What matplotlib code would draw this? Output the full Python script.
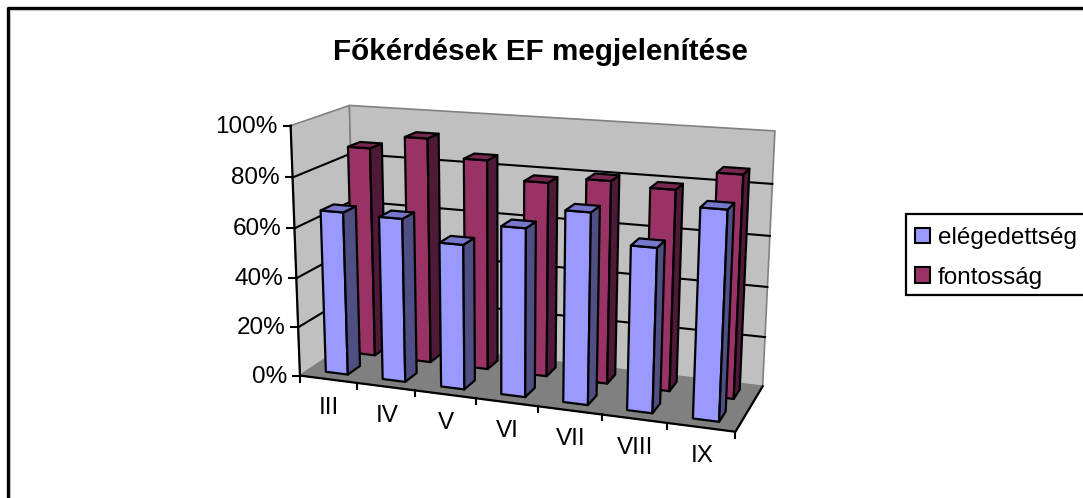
import numpy as np
import matplotlib
matplotlib.use("Agg")
import matplotlib.pyplot as plt
from matplotlib.patches import Patch, Polygon, Rectangle

title = "Főkérdések EF megjelenítése"
categories = ["III", "IV", "V", "VI", "VII", "VIII", "IX"]
elegedettseg = [0.66, 0.655, 0.575, 0.66, 0.74, 0.63, 0.79]
fontossag = [0.865, 0.92, 0.85, 0.78, 0.805, 0.79, 0.865]
y_ticks = [0, 0.2, 0.4, 0.6, 0.8, 1.0]
y_labels = ["0%", "20%", "40%", "60%", "80%", "100%"]

plt.rcParams["font.family"] = ["Liberation Sans", "DejaVu Sans"]
W, H = 1083, 498


# fit the camera of the 3d box: (u,v,z) in 0..1 -> pixel
def fit_camera(world, pix):
    rows = []
    for (u, v, z), (x, y) in zip(world, pix):
        rows.append([u, v, z, 1, 0, 0, 0, 0, -x*u, -x*v, -x*z, -x])
        rows.append([0, 0, 0, 0, u, v, z, 1, -y*u, -y*v, -y*z, -y])
    _, _, vt = np.linalg.svd(np.array(rows, dtype=float))
    return vt[-1].reshape(3, 4)


box_world = [(0, 0, 0), (0, 0, 1), (0, 1, 1), (0, 1, 0), (1, 0, 0), (1, 1, 0), (1, 1, 1)]
box_pix = [(300, 376), (291, 125), (349, 106), (355.7, 338), (735, 432), (763, 386), (775, 131)]
CAM = fit_camera(box_world, box_pix)


def proj(u, v, z):
    p = CAM @ np.array([u, v, z, 1.0])
    return p[0]/p[2], p[1]/p[2]


def face(ax, pts, color, edge="black", lw=1.6, z=1):
    ax.add_patch(Polygon([proj(*p) for p in pts], closed=True, facecolor=color,
                         edgecolor=edge, linewidth=lw, joinstyle="round", zorder=z))


def bar(ax, u0, u1, v0, v1, val, colors, z):
    face(ax, [(u0, v0, 0), (u1, v0, 0), (u1, v0, val), (u0, v0, val)], colors[0], z=z)
    face(ax, [(u1, v0, 0), (u1, v1, 0), (u1, v1, val), (u1, v0, val)], colors[1], z=z)
    face(ax, [(u0, v0, val), (u1, v0, val), (u1, v1, val), (u0, v1, val)], colors[2], z=z)


fig = plt.figure(figsize=(W/100, H/100), dpi=100)
ax = fig.add_axes([0, 0, 1, 1])
ax.set_xlim(0, W)
ax.set_ylim(H, 0)
ax.axis("off")

# chart area frame, right and bottom fall outside the picture
ax.plot([7.5, 7.5, W+5], [H+5, 8, 8], color="black", lw=2.4, zorder=0)
ax.plot([9.5, 9.5, W+5], [H+5, 10, 10], color="#c0c0c0", lw=0.8, zorder=0)

# walls and floor
face(ax, [(0, 0, 0), (0, 1, 0), (0, 1, 1), (0, 0, 1)], "#c0c0c0", edge="#808080", lw=1.2)
face(ax, [(0, 1, 0), (1, 1, 0), (1, 1, 1), (0, 1, 1)], "#c0c0c0", edge="#808080", lw=1.2)
face(ax, [(0, 0, 0), (1, 0, 0), (1, 1, 0), (0, 1, 0)], "#808080", edge="#808080", lw=1.0)

for t, lab in zip(y_ticks, y_labels):
    if t > 0 and t < 1:
        xs, ys = zip(proj(0, 0, t), proj(0, 1, t), proj(1, 1, t))
        ax.plot(xs, ys, color="black", lw=1.5, zorder=1)
    x, y = proj(0, 0, t)
    ax.plot([x-7, x], [y, y], color="black", lw=1.5, zorder=3)
    ax.text(x-13, y+1, lab, ha="right", va="center", fontsize=17.5, color="black")

# axis lines
xs, ys = zip(proj(0, 0, 1), proj(0, 0, 0), proj(1, 0, 0), proj(1, 1, 0))
ax.plot(xs, ys, color="black", lw=1.6, zorder=1.5)

n = len(categories)
bar_w = 0.39
bar_d = 0.22
for i in range(n+1):
    x, y = proj(i/n, 0, 0)
    ax.plot([x, x], [y, y+6], color="black", lw=1.5, zorder=1.5)

for i, lab in enumerate(categories):
    x, y = proj((i+0.5)/n, 0, 0)
    ax.text(x+1, y+29, lab, ha="center", va="center", fontsize=17.5, color="black")

blue = ("#9999ff", "#4f4f84", "#7777cc")
red = ("#993366", "#4f1a38", "#772850")
for i, val in enumerate(fontossag):
    u0 = (i+0.5-bar_w/2)/n
    u1 = (i+0.5+bar_w/2)/n
    bar(ax, u0, u1, 0.65, 0.65+bar_d, val, red, 2+i*0.01)
for i, val in enumerate(elegedettseg):
    u0 = (i+0.5-bar_w/2)/n
    u1 = (i+0.5+bar_w/2)/n
    bar(ax, u0, u1, 0.15, 0.15+bar_d, val, blue, 3+i*0.01)

ax.text(540.5, 52, title, ha="center", va="center", fontsize=21.3, fontweight="bold", color="black")

# legend box runs off the right edge in the original
ax.add_patch(Rectangle((906, 214), 200, 81, facecolor="white", edgecolor="black", linewidth=1.6, zorder=4))
handles = [Patch(facecolor=blue[0], edgecolor="black", linewidth=1.5, label="elégedettség"),
           Patch(facecolor=red[0], edgecolor="black", linewidth=1.5, label="fontosság")]
leg = ax.legend(handles=handles, loc="upper left", bbox_to_anchor=(915, 227),
                bbox_transform=ax.transData, frameon=False,
                fontsize=17.5, borderaxespad=0, borderpad=0,
                handlelength=0.6, handleheight=0.6, handletextpad=0.33, labelspacing=0.72)
leg.set_zorder(5)

fig.savefig("out.png", dpi=100)
